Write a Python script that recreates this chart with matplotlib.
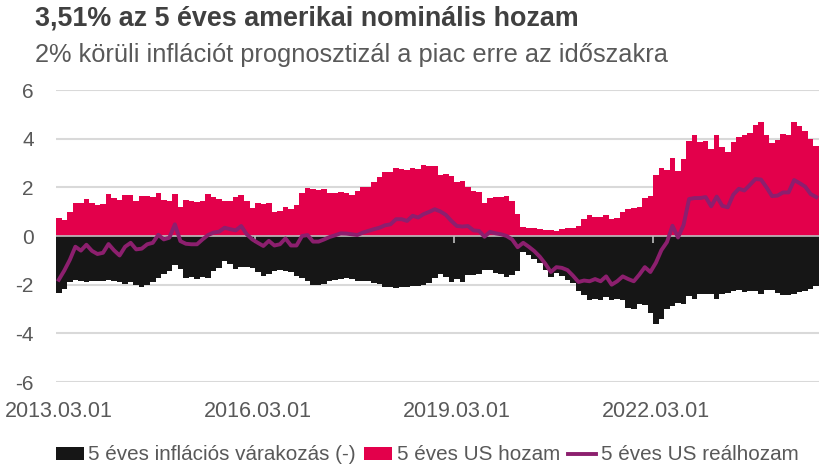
import numpy as np
import pandas as pd
import matplotlib
matplotlib.use("Agg")
import matplotlib.pyplot as plt
from matplotlib.patches import Patch
from matplotlib.lines import Line2D

plt.rcParams['font.family'] = ['Liberation Sans', 'DejaVu Sans']

# havi adatok 2013.03 - 2024.08
honapok = pd.date_range('2013-03-01', periods=138, freq='MS')

# 5 éves US hozam (%)
nominalis = [
    0.73, 0.65, 0.99, 1.35, 1.34, 1.52, 1.35, 1.27, 1.31, 1.71,
    1.58, 1.48, 1.70, 1.70, 1.44, 1.64, 1.64, 1.61, 1.77, 1.47,
    1.44, 1.74, 1.20, 1.48, 1.45, 1.39, 1.42, 1.72, 1.59, 1.52,
    1.42, 1.45, 1.61, 1.68, 1.42, 1.17, 1.34, 1.31, 1.34, 1.00,
    1.03, 1.20, 1.13, 1.28, 1.77, 1.97, 1.92, 1.89, 1.92, 1.77,
    1.77, 1.79, 1.78, 1.70, 1.86, 2.00, 2.03, 2.21, 2.41, 2.61,
    2.61, 2.79, 2.74, 2.72, 2.80, 2.77, 2.92, 2.88, 2.86, 2.52,
    2.55, 2.48, 2.23, 2.25, 2.03, 1.83, 1.82, 1.35, 1.56, 1.61,
    1.61, 1.66, 1.45, 0.90, 0.37, 0.34, 0.32, 0.27, 0.24, 0.25,
    0.22, 0.30, 0.33, 0.32, 0.40, 0.70, 0.85, 0.80, 0.78, 0.86,
    0.69, 0.75, 0.99, 1.13, 1.15, 1.19, 1.57, 1.66, 2.50, 2.79,
    2.70, 3.19, 2.66, 3.15, 3.89, 4.15, 3.85, 3.90, 3.57, 4.14,
    3.64, 3.46, 3.87, 4.08, 4.15, 4.23, 4.56, 4.70, 4.17, 3.81,
    3.94, 4.20, 4.17, 4.67, 4.52, 4.32, 3.98, 3.68,
]

# 5 éves inflációs várakozás, negatív előjellel (%)
inflacio_neg = [
    -2.34, -2.17, -1.90, -1.82, -1.86, -1.89, -1.86, -1.83, -1.86, -1.82,
    -1.86, -1.90, -1.97, -1.90, -2.03, -2.10, -2.00, -1.90, -1.72, -1.56,
    -1.42, -1.20, -1.34, -1.72, -1.70, -1.75, -1.70, -1.72, -1.45, -1.31,
    -1.03, -1.14, -1.34, -1.26, -1.26, -1.31, -1.48, -1.66, -1.58, -1.42,
    -1.41, -1.42, -1.48, -1.66, -1.72, -1.86, -2.03, -2.03, -1.96, -1.86,
    -1.79, -1.75, -1.72, -1.77, -1.83, -1.83, -1.86, -1.93, -1.97, -2.11,
    -2.10, -2.14, -2.11, -2.08, -2.06, -2.07, -2.03, -1.92, -1.72, -1.58,
    -1.70, -1.87, -1.78, -1.88, -1.60, -1.59, -1.58, -1.40, -1.40, -1.53,
    -1.58, -1.68, -1.60, -1.42, -0.66, -0.78, -0.93, -1.13, -1.40, -1.69,
    -1.53, -1.64, -1.80, -1.94, -2.24, -2.42, -2.64, -2.60, -2.63, -2.50,
    -2.64, -2.60, -2.61, -2.95, -2.98, -2.81, -2.85, -3.16, -3.63, -3.40,
    -3.01, -2.86, -2.77, -2.79, -2.45, -2.60, -2.40, -2.38, -2.38, -2.59,
    -2.39, -2.33, -2.26, -2.22, -2.29, -2.28, -2.27, -2.37, -2.23, -2.23,
    -2.34, -2.42, -2.42, -2.38, -2.32, -2.25, -2.18, -2.07,
]

# 5 éves US reálhozam (%)
realhozam = [
    -1.80, -1.42, -0.98, -0.44, -0.60, -0.36, -0.61, -0.74, -0.69, -0.33,
    -0.59, -0.80, -0.44, -0.28, -0.55, -0.52, -0.34, -0.28, 0.05, -0.14,
    -0.07, 0.48, -0.21, -0.32, -0.34, -0.34, -0.14, 0.04, 0.14, 0.18,
    0.34, 0.28, 0.23, 0.41, 0.07, -0.14, -0.28, -0.41, -0.20, -0.39,
    -0.34, -0.10, -0.39, -0.39, 0.00, 0.04, -0.23, -0.23, -0.14, -0.04,
    0.03, 0.11, 0.10, 0.07, 0.04, 0.14, 0.21, 0.28, 0.34, 0.44,
    0.48, 0.69, 0.69, 0.62, 0.83, 0.76, 0.90, 0.99, 1.10, 1.01,
    0.87, 0.62, 0.41, 0.39, 0.41, 0.23, 0.21, -0.03, 0.17, 0.11,
    0.07, 0.00, -0.14, -0.46, -0.28, -0.44, -0.62, -0.85, -1.14, -1.48,
    -1.28, -1.31, -1.40, -1.63, -1.89, -1.83, -1.86, -1.77, -1.86, -1.66,
    -2.00, -1.86, -1.66, -1.77, -1.86, -1.59, -1.28, -1.48, -1.10, -0.58,
    -0.25, 0.42, -0.06, 0.45, 1.52, 1.56, 1.56, 1.60, 1.22, 1.62,
    1.24, 1.18, 1.70, 1.94, 1.87, 2.10, 2.34, 2.32, 2.00, 1.64,
    1.66, 1.79, 1.79, 2.30, 2.17, 2.03, 1.72, 1.60,
]

PINK = '#E3004B'
BLACK = '#161616'
PURPLE = '#8C1F6E'
GRID = '#D9D9D9'
TXT = '#595959'

x = np.arange(len(honapok))

fig = plt.figure(figsize=(8.19, 4.68), dpi=100)
ax = fig.add_axes([56 / 819, 1 - 382 / 468, 1 - 56 / 819, (382 - 90) / 468])

ax.bar(x, nominalis, width=1.0, color=PINK, linewidth=0, zorder=2)
ax.bar(x, inflacio_neg, width=1.0, color=BLACK, linewidth=0, zorder=2)
ax.axhline(0, color='#BFBFBF', lw=1.2, zorder=3)
# kis osztásjelek a nulla vonalon
ax.vlines(x[36::36] - 0.5, -0.3, 0, color='#BFBFBF', lw=1.2, zorder=3)
ax.plot(x, realhozam, color=PURPLE, lw=2.8, zorder=4, solid_joinstyle='round')

ax.set_xlim(-0.5, len(x) - 0.5)
ax.set_ylim(-6, 6)
ax.set_yticks(np.arange(-6, 7, 2))
ax.set_yticklabels([str(v) for v in range(-6, 7, 2)])
ax.yaxis.grid(True, color=GRID, lw=1.5, zorder=0)
ax.set_axisbelow(True)

tick_idx = x[::36]
ax.set_xticks(tick_idx)
ax.set_xticklabels(honapok[::36].strftime('%Y.%m.%d'))
ax.tick_params(axis='x', length=0, pad=14, labelsize=15.5, labelcolor=TXT)
ax.tick_params(axis='y', length=0, pad=16, labelsize=15, labelcolor=TXT)
for s in ax.spines.values():
    s.set_visible(False)

fig.text(35 / 819, 1 - 18 / 468, '3,51% az 5 éves amerikai nominális hozam',
         fontsize=19.4, fontweight='bold', color='#404040', va='center', ha='left')
fig.text(35 / 819, 1 - 55 / 468, '2% körüli inflációt prognosztizál a piac erre az időszakra',
         fontsize=18.3, color=TXT, va='center', ha='left')

handles = [
    Patch(facecolor=BLACK, edgecolor='none'),
    Patch(facecolor=PINK, edgecolor='none'),
    Line2D([0], [0], color=PURPLE, lw=2.8),
]
labels = ['5 éves inflációs várakozás (-)', '5 éves US hozam', '5 éves US reálhozam']
leg = fig.legend(handles, labels, loc='center', bbox_to_anchor=(427 / 819, 1 - 455 / 468),
                 ncol=3, frameon=False, fontsize=14.9, handlelength=1.35, handleheight=0.6,
                 handletextpad=0.22, columnspacing=0.4, borderpad=0, borderaxespad=0)
for t in leg.get_texts():
    t.set_color(TXT)

fig.savefig('out.png', dpi=100)
